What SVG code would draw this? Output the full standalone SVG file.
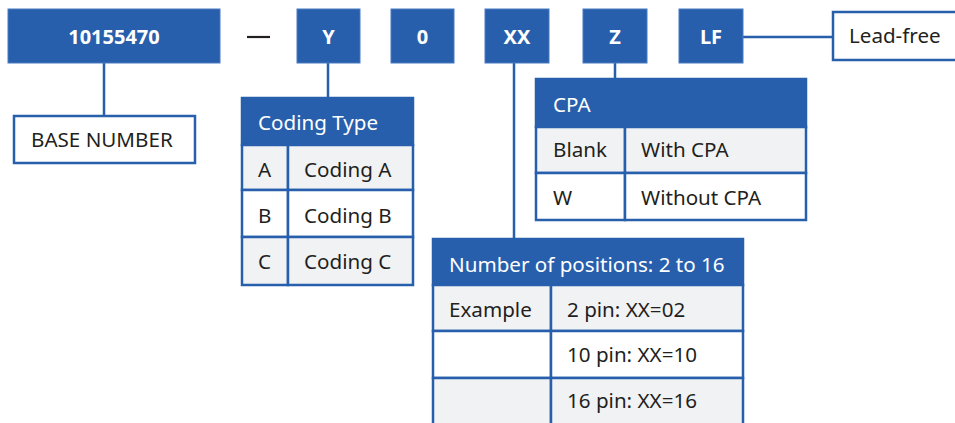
<svg xmlns="http://www.w3.org/2000/svg" width="955" height="423" viewBox="0 0 955 423">
<style>
.blk{fill:#275fad;stroke:#4a7bc0;stroke-width:1}
.code{font-family:"Noto Sans","Open Sans",sans-serif;font-weight:bold;font-size:20px;fill:#fff;text-anchor:middle}
.t{font-family:"Noto Sans","Open Sans",sans-serif;font-size:20.6px;fill:#231f20}
.th{font-family:"Noto Sans","Open Sans",sans-serif;font-size:20.6px;fill:#fff}
.box{fill:#fff;stroke:#275fad;stroke-width:2.5}
.hd{fill:#275fad;stroke:#275fad;stroke-width:2.5}
.g{fill:#f1f2f4;stroke:#275fad;stroke-width:2.5}
.w{fill:#fff;stroke:#275fad;stroke-width:2.5}
.con{stroke:#275fad;stroke-width:2.5;fill:none}
</style>
<rect width="955" height="423" fill="#fff"/>
<g id="connectors">
<line class="con" x1="104" y1="63" x2="104" y2="116"/>
<line class="con" x1="328" y1="63" x2="328" y2="98"/>
<line class="con" x1="514" y1="63" x2="514" y2="239"/>
<line class="con" x1="615" y1="63" x2="615" y2="79"/>
<line class="con" x1="743" y1="37" x2="833" y2="37"/>
</g>
<g id="base">
<rect class="blk" x="8" y="9" width="212" height="54"/>
<text class="code" x="114" y="44">10155470</text>
</g>
<line id="dash" x1="247" y1="37" x2="270" y2="37" stroke="#231f20" stroke-width="2.2"/>
<g id="y">
<rect class="blk" x="297" y="9" width="63" height="54"/>
<text class="code" x="328.5" y="44">Y</text>
</g>
<g id="zero">
<rect class="blk" x="391" y="9" width="63" height="54"/>
<text class="code" x="422.5" y="44">0</text>
</g>
<g id="xx">
<rect class="blk" x="485" y="9" width="64" height="54"/>
<text class="code" x="517" y="44">XX</text>
</g>
<g id="z">
<rect class="blk" x="583" y="9" width="64" height="54"/>
<text class="code" x="615" y="44">Z</text>
</g>
<g id="lf">
<rect class="blk" x="679" y="9" width="64" height="54"/>
<text class="code" x="711" y="44">LF</text>
</g>
<g id="leadfree">
<rect class="box" x="833" y="12" width="130" height="48"/>
<text class="t" x="849" y="43">Lead-free</text>
</g>
<g id="basenumber">
<rect class="box" x="14" y="116" width="181" height="47"/>
<text class="t" x="31" y="147">BASE NUMBER</text>
</g>
<g id="codingtype">
<rect class="hd" x="242" y="98" width="171" height="47"/>
<text class="th" x="258" y="130">Coding Type</text>
<rect class="g" x="242" y="145" width="46" height="45"/>
<rect class="g" x="288" y="145" width="125" height="45"/>
<rect class="w" x="242" y="190" width="46" height="47"/>
<rect class="w" x="288" y="190" width="125" height="47"/>
<rect class="g" x="242" y="237" width="46" height="48"/>
<rect class="g" x="288" y="237" width="125" height="48"/>
<text class="t" x="258" y="177">A</text>
<text class="t" x="304" y="177">Coding A</text>
<text class="t" x="258" y="223">B</text>
<text class="t" x="304" y="223">Coding B</text>
<text class="t" x="258" y="269">C</text>
<text class="t" x="304" y="269">Coding C</text>
</g>
<g id="cpa">
<rect class="hd" x="536" y="79" width="270" height="48"/>
<text class="th" x="553" y="112">CPA</text>
<rect class="g" x="536" y="127" width="89" height="46"/>
<rect class="g" x="625" y="127" width="181" height="46"/>
<rect class="w" x="536" y="173" width="89" height="47"/>
<rect class="w" x="625" y="173" width="181" height="47"/>
<text class="t" x="553" y="157">Blank</text>
<text class="t" x="641" y="157">With CPA</text>
<text class="t" x="553" y="205">W</text>
<text class="t" x="641" y="205">Without CPA</text>
</g>
<g id="positions">
<rect class="hd" x="433" y="239" width="310" height="46"/>
<text class="th" x="449" y="272">Number of positions: 2 to 16</text>
<rect class="g" x="433" y="285" width="118" height="46"/>
<rect class="g" x="551" y="285" width="192" height="46"/>
<rect class="w" x="433" y="331" width="118" height="47"/>
<rect class="w" x="551" y="331" width="192" height="47"/>
<rect class="g" x="433" y="378" width="118" height="60"/>
<rect class="g" x="551" y="378" width="192" height="60"/>
<text class="t" x="449" y="317">Example</text>
<text class="t" x="567" y="317">2 pin: XX=02</text>
<text class="t" x="567" y="362">10 pin: XX=10</text>
<text class="t" x="567" y="408">16 pin: XX=16</text>
</g>
</svg>
